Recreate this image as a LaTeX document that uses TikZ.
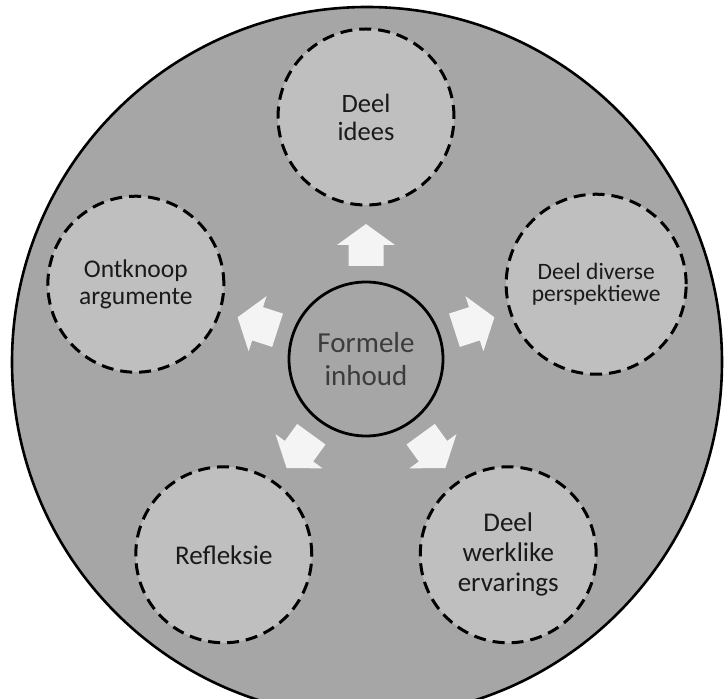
\documentclass[tikz,border=0pt]{standalone}
\usepackage{fontspec}
\setmainfont{Carlito}
\usetikzlibrary{calc}
\definecolor{bggray}{HTML}{A6A6A6}
\definecolor{ringgray}{HTML}{BFBFBF}
\definecolor{arrowwhite}{HTML}{F4F4F4}
\definecolor{txtdark}{HTML}{1A1A1A}
\definecolor{txtmid}{HTML}{3C3C3C}
\tikzset{
  outercircle/.style={circle, draw=black, line width=3pt, dash pattern=on 12pt off 7pt,
    fill=ringgray, minimum size=176pt, inner sep=0pt, align=center, text=txtdark},
  hubcircle/.style={circle, draw=black, line width=2.8pt, fill=bggray, minimum size=154pt,
    inner sep=0pt, align=center, text=txtmid},
  blockarrow/.style={fill=arrowwhite, draw=none},
}
\begin{document}
\begin{tikzpicture}[x=1pt,y=1pt]
\useasboundingbox (0,0) rectangle (724,699);
\fill[white] (0,0) rectangle (724,699);
\begin{scope}
\clip (0,0) rectangle (724,699);
\node[circle, draw=black, line width=2.6pt, fill=bggray, minimum size=710pt, inner sep=0pt] (big) at (367,337) {};
\end{scope}
\node[hubcircle, font={\fontsize{29}{33}\selectfont}] (hub) at (366,340) {Formele\\inhoud};
\node[outercircle, font={\fontsize{26.5}{28}\selectfont}] (idees) at ($(hub)+(90:242)$) {Deel\\idees};
\node[outercircle, font={\fontsize{25.5}{27}\selectfont}] (ontknoop) at ($(hub)+(162:242)$) {Ontknoop\\argumente};
\node[outercircle, minimum size=180pt, font={\fontsize{23.5}{22}\selectfont}] (diverse) at ($(hub)+(18:242)$) {Deel diverse\\perspektiewe};
\node[outercircle, font={\fontsize{27}{28}\selectfont}] (refleksie) at ($(hub)+(234:242)$) {Refleksie};
\node[outercircle, font={\fontsize{27}{30}\selectfont}] (werklike) at ($(hub)+(306:242)$) {Deel\\werklike\\ervarings};
\foreach \a in {90,162,18,234,306}{
  \fill[blockarrow, shift={(hub.center)}, rotate=\a]
    (135,0) -- (114,29) -- (114,17.5) -- (93,17.5) -- (93,-17.5) -- (114,-17.5) -- (114,-29) -- cycle;
}
\end{tikzpicture}
\end{document}
